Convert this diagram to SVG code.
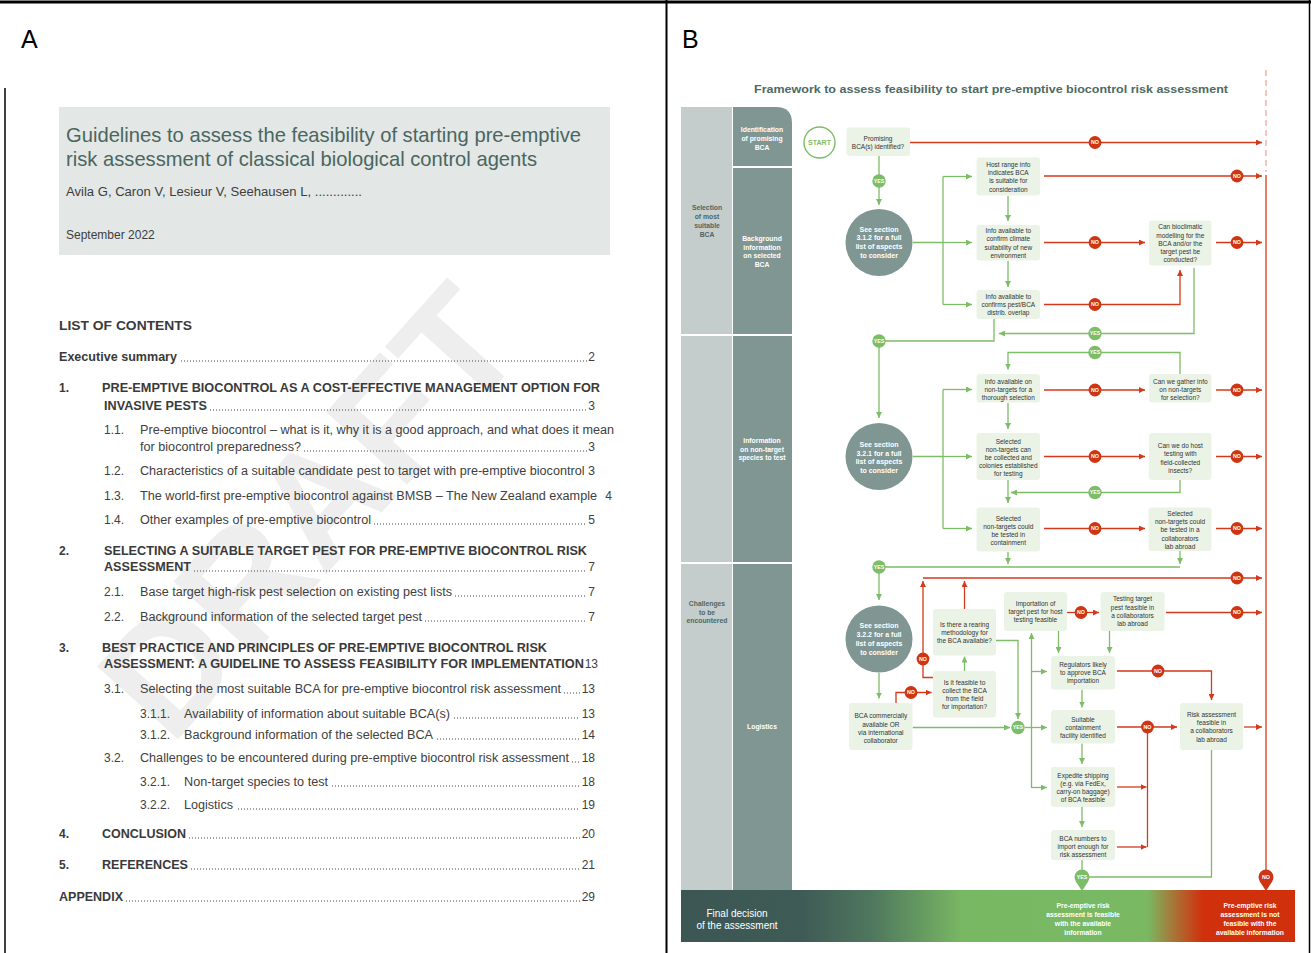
<svg xmlns="http://www.w3.org/2000/svg" width="1311" height="953" viewBox="0 0 1311 953">
<style>
.ff{font-family:"Liberation Sans",Arial,Helvetica,sans-serif}
.box{fill:#eaf3e6}
.nt{font-family:"Liberation Sans",Arial,sans-serif;font-size:6.5px;fill:#333;text-anchor:middle}
.ct{font-family:"Liberation Sans",Arial,sans-serif;font-size:7px;font-weight:bold;fill:#fff;text-anchor:middle}
.lt{font-family:"Liberation Sans",Arial,sans-serif;font-size:6.8px;font-weight:bold;fill:#4f6762;text-anchor:middle}
.dt{font-family:"Liberation Sans",Arial,sans-serif;font-size:6.8px;font-weight:bold;fill:#fff;text-anchor:middle}
.g{stroke:#7dbd68;stroke-width:1.3;fill:none}
.r{stroke:#d3391a;stroke-width:1.3;fill:none}
.ga{marker-end:url(#ag)}
.ra{marker-end:url(#ar)}
.yb{fill:#7dbd68}
.nb{fill:#cf3414}
.bt{font-family:"Liberation Sans",Arial,sans-serif;font-size:5.3px;font-weight:bold;fill:#fff;text-anchor:middle}
.toc{font-family:"Liberation Sans",Arial,sans-serif;font-size:12px;fill:#404040}
.tb{font-family:"Liberation Sans",Arial,sans-serif;font-size:12px;font-weight:bold;fill:#3a3a3a}
.pn{font-family:"Liberation Sans",Arial,sans-serif;font-size:12px;fill:#404040;text-anchor:end}
.dots{stroke:#444;stroke-width:1;stroke-dasharray:1 2}
.bar{font-family:"Liberation Sans",Arial,sans-serif;font-size:6.8px;font-weight:bold;fill:#fff;text-anchor:middle}
</style>
<defs>
<marker id="ag" viewBox="0 0 10 10" refX="10" refY="5" markerWidth="6" markerHeight="6" markerUnits="userSpaceOnUse" orient="auto"><path d="M0,0 L10,5 L0,10 z" fill="#7dbd68"/></marker>
<marker id="ar" viewBox="0 0 10 10" refX="10" refY="5" markerWidth="6" markerHeight="6" markerUnits="userSpaceOnUse" orient="auto"><path d="M0,0 L10,5 L0,10 z" fill="#d3391a"/></marker>
<linearGradient id="barg" x1="681" y1="0" x2="1295" y2="0" gradientUnits="userSpaceOnUse">
<stop offset="0" stop-color="#3c5753"/>
<stop offset="0.2" stop-color="#3f5b56"/>
<stop offset="0.31" stop-color="#4f775e"/>
<stop offset="0.46" stop-color="#79b863"/>
<stop offset="0.76" stop-color="#7ab862"/>
<stop offset="0.8" stop-color="#a6783a"/>
<stop offset="0.85" stop-color="#d1300d"/>
<stop offset="1" stop-color="#d1300d"/>
</linearGradient>
</defs>

<rect width="1311" height="953" fill="#fff"/>

<g id="frame" stroke="#000" fill="none">
<line x1="0" y1="2" x2="1311" y2="2" stroke-width="3"/>
<line x1="666.5" y1="0" x2="666.5" y2="953" stroke-width="2"/>
<line x1="5" y1="88" x2="5" y2="953" stroke-width="1.5"/>
<line x1="1309.5" y1="0" x2="1309.5" y2="953" stroke-width="1.5"/>
</g>

<!-- PANEL A -->
<g id="panelA">
<text x="21" y="48" class="ff" font-size="25" fill="#000">A</text>
<text x="350" y="548" class="ff" font-size="158" font-weight="bold" fill="#eeeeee" text-anchor="middle" transform="rotate(-48 350 548)">DRAFT</text>
<g id="titlebox">
<rect x="59" y="107" width="551" height="148" fill="#e3e7e6"/>
<text x="66" y="142" class="ff" font-size="21" fill="#4a6660" textLength="515" lengthAdjust="spacingAndGlyphs">Guidelines to assess the feasibility of starting pre-emptive</text>
<text x="66" y="166" class="ff" font-size="21" fill="#4a6660" textLength="471" lengthAdjust="spacingAndGlyphs">risk assessment of classical biological control agents</text>
<text x="66" y="196" class="ff" font-size="12" fill="#3d3d3d" textLength="296" lengthAdjust="spacingAndGlyphs">Avila G, Caron V, Lesieur V, Seehausen L, .............</text>
<text x="66" y="239" class="ff" font-size="12" fill="#3d3d3d">September 2022</text>
</g>
<g id="toc">
<text x="59" y="330" class="tb" textLength="133" lengthAdjust="spacingAndGlyphs">LIST OF CONTENTS</text>

<text x="59" y="361" class="tb" textLength="118" lengthAdjust="spacingAndGlyphs">Executive summary</text>
<line x1="181" y1="361" x2="587" y2="361" class="dots"/><text x="595" y="361" class="pn">2</text>

<text x="59" y="392" class="tb">1.</text>
<text x="102" y="392" class="tb" textLength="498" lengthAdjust="spacingAndGlyphs">PRE-EMPTIVE BIOCONTROL AS A COST-EFFECTIVE MANAGEMENT OPTION FOR</text>
<text x="104" y="410" class="tb" textLength="103" lengthAdjust="spacingAndGlyphs">INVASIVE PESTS</text>
<line x1="210" y1="410" x2="587" y2="410" class="dots"/><text x="595" y="410" class="pn">3</text>

<text x="104" y="434" class="toc">1.1.</text>
<text x="140" y="434" class="toc" textLength="474" lengthAdjust="spacingAndGlyphs">Pre-emptive biocontrol – what is it, why it is a good approach, and what does it mean</text>
<text x="140" y="451" class="toc" textLength="161" lengthAdjust="spacingAndGlyphs">for biocontrol preparedness?</text>
<line x1="304" y1="451" x2="587" y2="451" class="dots"/><text x="595" y="451" class="pn">3</text>

<text x="104" y="475" class="toc">1.2.</text>
<text x="140" y="475" class="toc" textLength="455" lengthAdjust="spacingAndGlyphs">Characteristics of a suitable candidate pest to target with pre-emptive biocontrol 3</text>

<text x="104" y="500" class="toc">1.3.</text>
<text x="140" y="500" class="toc" textLength="457" lengthAdjust="spacingAndGlyphs">The world-first pre-emptive biocontrol against BMSB – The New Zealand example</text>
<text x="612" y="500" class="pn">4</text>

<text x="104" y="524" class="toc">1.4.</text>
<text x="140" y="524" class="toc" textLength="231" lengthAdjust="spacingAndGlyphs">Other examples of pre-emptive biocontrol</text>
<line x1="374" y1="524" x2="587" y2="524" class="dots"/><text x="595" y="524" class="pn">5</text>

<text x="59" y="555" class="tb">2.</text>
<text x="104" y="555" class="tb" textLength="483" lengthAdjust="spacingAndGlyphs">SELECTING A SUITABLE TARGET PEST FOR PRE-EMPTIVE BIOCONTROL RISK</text>
<text x="104" y="571" class="tb" textLength="87" lengthAdjust="spacingAndGlyphs">ASSESSMENT</text>
<line x1="194" y1="571" x2="587" y2="571" class="dots"/><text x="595" y="571" class="pn">7</text>

<text x="104" y="596" class="toc">2.1.</text>
<text x="140" y="596" class="toc" textLength="312" lengthAdjust="spacingAndGlyphs">Base target high-risk pest selection on existing pest lists</text>
<line x1="455" y1="596" x2="587" y2="596" class="dots"/><text x="595" y="596" class="pn">7</text>

<text x="104" y="621" class="toc">2.2.</text>
<text x="140" y="621" class="toc" textLength="282" lengthAdjust="spacingAndGlyphs">Background information of the selected target pest</text>
<line x1="425" y1="621" x2="587" y2="621" class="dots"/><text x="595" y="621" class="pn">7</text>

<text x="59" y="652" class="tb">3.</text>
<text x="102" y="652" class="tb" textLength="445" lengthAdjust="spacingAndGlyphs">BEST PRACTICE AND PRINCIPLES OF PRE-EMPTIVE BIOCONTROL RISK</text>
<text x="104" y="668" class="tb" textLength="480" lengthAdjust="spacingAndGlyphs">ASSESSMENT: A GUIDELINE TO ASSESS FEASIBILITY FOR IMPLEMENTATION</text>
<text x="598" y="668" class="pn">13</text>

<text x="104" y="693" class="toc">3.1.</text>
<text x="140" y="693" class="toc" textLength="421" lengthAdjust="spacingAndGlyphs">Selecting the most suitable BCA for pre-emptive biocontrol risk assessment</text>
<line x1="564" y1="693" x2="580" y2="693" class="dots"/><text x="595" y="693" class="pn">13</text>

<text x="140" y="718" class="toc">3.1.1.</text>
<text x="184" y="718" class="toc" textLength="266" lengthAdjust="spacingAndGlyphs">Availability of information about suitable BCA(s)</text>
<line x1="454" y1="718" x2="580" y2="718" class="dots"/><text x="595" y="718" class="pn">13</text>

<text x="140" y="739" class="toc">3.1.2.</text>
<text x="184" y="739" class="toc" textLength="249" lengthAdjust="spacingAndGlyphs">Background information of the selected BCA</text>
<line x1="437" y1="739" x2="580" y2="739" class="dots"/><text x="595" y="739" class="pn">14</text>

<text x="104" y="762" class="toc">3.2.</text>
<text x="140" y="762" class="toc" textLength="429" lengthAdjust="spacingAndGlyphs">Challenges to be encountered during pre-emptive biocontrol risk assessment</text>
<line x1="572" y1="762" x2="580" y2="762" class="dots"/><text x="595" y="762" class="pn">18</text>

<text x="140" y="786" class="toc">3.2.1.</text>
<text x="184" y="786" class="toc" textLength="144" lengthAdjust="spacingAndGlyphs">Non-target species to test</text>
<line x1="332" y1="786" x2="580" y2="786" class="dots"/><text x="595" y="786" class="pn">18</text>

<text x="140" y="809" class="toc">3.2.2.</text>
<text x="184" y="809" class="toc" textLength="49" lengthAdjust="spacingAndGlyphs">Logistics</text>
<line x1="238" y1="809" x2="580" y2="809" class="dots"/><text x="595" y="809" class="pn">19</text>

<text x="59" y="838" class="tb">4.</text>
<text x="102" y="838" class="tb" textLength="84" lengthAdjust="spacingAndGlyphs">CONCLUSION</text>
<line x1="189" y1="838" x2="580" y2="838" class="dots"/><text x="595" y="838" class="pn">20</text>

<text x="59" y="869" class="tb">5.</text>
<text x="102" y="869" class="tb" textLength="86" lengthAdjust="spacingAndGlyphs">REFERENCES</text>
<line x1="191" y1="869" x2="580" y2="869" class="dots"/><text x="595" y="869" class="pn">21</text>

<text x="59" y="901" class="tb" textLength="64" lengthAdjust="spacingAndGlyphs">APPENDIX</text>
<line x1="126" y1="901" x2="580" y2="901" class="dots"/><text x="595" y="901" class="pn">29</text>
</g>
</g>

<!-- PANEL B -->
<g id="panelB">
<text x="682" y="48" class="ff" font-size="25" fill="#000">B</text>
<text x="754" y="93" class="ff" font-size="11" font-weight="bold" fill="#4d6a64" textLength="474" lengthAdjust="spacingAndGlyphs">Framework to assess feasibility to start pre-emptive biocontrol risk assessment</text>

<g id="lanes">
<rect x="681" y="107" width="52" height="783" fill="#c4cdcb"/>
<path d="M732 107 H776 Q792 107 792 123 V890 H732 Z" fill="#7f9692"/>
<line x1="732" y1="167" x2="792" y2="167" stroke="#fff" stroke-width="2"/>
<line x1="681" y1="335" x2="792" y2="335" stroke="#fff" stroke-width="2"/>
<line x1="681" y1="563" x2="792" y2="563" stroke="#fff" stroke-width="2"/>
<line x1="732.5" y1="107" x2="732.5" y2="890" stroke="#fff" stroke-width="1"/>
<text class="lt" x="707" y="210">Selection</text><text class="lt" x="707" y="219">of most</text><text class="lt" x="707" y="227.5">suitable</text><text class="lt" x="707" y="236.5">BCA</text>
<text class="lt" x="707" y="606">Challenges</text><text class="lt" x="707" y="614.5">to be</text><text class="lt" x="707" y="623">encountered</text>
<text class="dt" x="762" y="132">Identification</text><text class="dt" x="762" y="141">of promising</text><text class="dt" x="762" y="149.5">BCA</text>
<text class="dt" x="762" y="241">Background</text><text class="dt" x="762" y="249.5">information</text><text class="dt" x="762" y="258">on selected</text><text class="dt" x="762" y="267">BCA</text>
<text class="dt" x="762" y="443">Information</text><text class="dt" x="762" y="451.5">on non-target</text><text class="dt" x="762" y="460">species to test</text>
<text class="dt" x="762" y="729">Logistics</text>
</g>

<g id="finalbar">
<rect x="681" y="890" width="614" height="52" fill="url(#barg)"/>
<text x="737" y="917" class="ff" font-size="10" fill="#fff" text-anchor="middle">Final decision</text>
<text x="737" y="929" class="ff" font-size="10" fill="#fff" text-anchor="middle">of the assessment</text>
<text class="bar" x="1083" y="908">Pre-emptive risk</text><text class="bar" x="1083" y="917">assessment is feasible</text><text class="bar" x="1083" y="926">with the available</text><text class="bar" x="1083" y="934.5">information</text>
<text class="bar" x="1250" y="908">Pre-emptive risk</text><text class="bar" x="1250" y="917">assessment is not</text><text class="bar" x="1250" y="926">feasible with the</text><text class="bar" x="1250" y="934.5">available information</text>
</g>

<g id="connectors">
<line x1="1266" y1="70" x2="1266" y2="172" stroke="#f2a898" stroke-width="1.3" stroke-dasharray="6 4"/>
<path class="r" d="M1266 175 V872"/>
<!-- green -->
<path class="g ga" d="M879 156 V205"/>
<path class="g" d="M913 242.5 H943 M943 176.5 V304.5"/>
<path class="g ga" d="M943 176.5 H972"/>
<path class="g ga" d="M943 242.5 H972"/>
<path class="g ga" d="M943 304.5 H972"/>
<path class="g ga" d="M1008 196 V221"/>
<path class="g ga" d="M1008 261 V287"/>
<path class="g ga" d="M1194 268 V333.5 H999"/>
<path class="g ga" d="M994 319 V341 H879 V418"/>
<path class="g" d="M913 456.5 H943 M943 389.5 V528.5"/>
<path class="g ga" d="M943 389.5 H972"/>
<path class="g ga" d="M943 456.5 H972"/>
<path class="g ga" d="M943 528.5 H972"/>
<path class="g ga" d="M1180 374 V352.5 H1008 V369.5"/>
<path class="g ga" d="M1008 403 V429"/>
<path class="g ga" d="M1180 480 V492.5 H1011"/>
<path class="g ga" d="M1008 480 V503"/>
<path class="g ga" d="M1008 552 V564"/>
<path class="g ga" d="M1180 551 V564"/>
<path class="g ga" d="M1180 567 H879 V600"/>
<path class="g ga" d="M879 673 V698.5"/>
<path class="g ga" d="M912.5 727.5 H1010"/>
<path class="g ga" d="M964.5 671 V656.5"/>
<path class="g ga" d="M996 640.5 H1018 V719"/>
<path class="g ga" d="M1025 727.5 H1047"/>
<path class="g ga" d="M1031.5 788 V633"/>
<path class="g ga" d="M1031.5 671.5 H1047"/>
<path class="g ga" d="M1031.5 787.5 H1047"/>
<path class="g ga" d="M1058.5 631 V653"/>
<path class="g ga" d="M1109.5 631 V653"/>
<path class="g ga" d="M1082 689.5 V707.5"/>
<path class="g ga" d="M1082 743.5 V764"/>
<path class="g ga" d="M1082 807 V827"/>
<path class="g" d="M1082 860 V872"/>
<path class="g" d="M1211.5 750 V877 H1088"/>
<!-- red -->
<path class="r ra" d="M910 142.5 H1262"/>
<path class="r ra" d="M1044 176 H1262"/>
<path class="r ra" d="M1044 242.5 H1145"/>
<path class="r ra" d="M1216 242.5 H1262"/>
<path class="r ra" d="M1044 304.5 H1180 V270"/>
<path class="r ra" d="M1044 390 H1145"/>
<path class="r ra" d="M1216 390 H1262"/>
<path class="r ra" d="M1044 456.5 H1145"/>
<path class="r ra" d="M1216 456.5 H1262"/>
<path class="r ra" d="M1044 528.5 H1145"/>
<path class="r ra" d="M1216 528.5 H1262"/>
<path class="r ra" d="M923 578 H1262"/>
<path class="r ra" d="M933 677.5 H923 V581"/>
<path class="r ra" d="M964.5 609 V581"/>
<path class="r ra" d="M896 703 V692.5 H931.5"/>
<path class="r ra" d="M1067 612.5 H1099"/>
<path class="r ra" d="M1166 612.5 H1262"/>
<path class="r ra" d="M1117 671 H1211.5 V700"/>
<path class="r ra" d="M1117 727 H1177"/>
<path class="r" d="M1147.5 727 V847"/>
<path class="r ra" d="M1117 787 H1146.5"/>
<path class="r ra" d="M1117 847 H1146.5"/>
<path class="r ra" d="M1244 727 H1262"/>
<!-- badges YES -->
<circle class="yb" cx="879" cy="181" r="6.7"/><text class="bt" x="879" y="182.9">YES</text>
<circle class="yb" cx="1095" cy="333.5" r="6.7"/><text class="bt" x="1095" y="335.4">YES</text>
<circle class="yb" cx="879" cy="341" r="6.7"/><text class="bt" x="879" y="342.9">YES</text>
<circle class="yb" cx="1095" cy="352.5" r="6.7"/><text class="bt" x="1095" y="354.4">YES</text>
<circle class="yb" cx="1095" cy="492.5" r="6.7"/><text class="bt" x="1095" y="494.4">YES</text>
<circle class="yb" cx="879" cy="567" r="6.7"/><text class="bt" x="879" y="568.9">YES</text>
<circle class="yb" cx="1018" cy="727.5" r="6.7"/><text class="bt" x="1018" y="729.4">YES</text>
<!-- badges NO -->
<circle class="nb" cx="1095" cy="142.5" r="6.4"/><text class="bt" x="1095" y="144.4">NO</text>
<circle class="nb" cx="1237" cy="176" r="6.4"/><text class="bt" x="1237" y="177.9">NO</text>
<circle class="nb" cx="1095" cy="242.5" r="6.4"/><text class="bt" x="1095" y="244.4">NO</text>
<circle class="nb" cx="1237" cy="242.5" r="6.4"/><text class="bt" x="1237" y="244.4">NO</text>
<circle class="nb" cx="1095" cy="304.5" r="6.4"/><text class="bt" x="1095" y="306.4">NO</text>
<circle class="nb" cx="1095" cy="390" r="6.4"/><text class="bt" x="1095" y="391.9">NO</text>
<circle class="nb" cx="1237" cy="390" r="6.4"/><text class="bt" x="1237" y="391.9">NO</text>
<circle class="nb" cx="1095" cy="456.5" r="6.4"/><text class="bt" x="1095" y="458.4">NO</text>
<circle class="nb" cx="1237" cy="456.5" r="6.4"/><text class="bt" x="1237" y="458.4">NO</text>
<circle class="nb" cx="1095" cy="528.5" r="6.4"/><text class="bt" x="1095" y="530.4">NO</text>
<circle class="nb" cx="1237" cy="528.5" r="6.4"/><text class="bt" x="1237" y="530.4">NO</text>
<circle class="nb" cx="1237" cy="578" r="6.4"/><text class="bt" x="1237" y="579.9">NO</text>
<circle class="nb" cx="923" cy="659" r="6.4"/><text class="bt" x="923" y="660.9">NO</text>
<circle class="nb" cx="911" cy="692.5" r="6.4"/><text class="bt" x="911" y="694.4">NO</text>
<circle class="nb" cx="1081" cy="612.5" r="6.4"/><text class="bt" x="1081" y="614.4">NO</text>
<circle class="nb" cx="1237" cy="612.5" r="6.4"/><text class="bt" x="1237" y="614.4">NO</text>
<circle class="nb" cx="1158" cy="671" r="6.4"/><text class="bt" x="1158" y="672.9">NO</text>
<circle class="nb" cx="1147.5" cy="727" r="6.4"/><text class="bt" x="1147.5" y="728.9">NO</text>
<!-- pins -->
<path d="M1075.5 881 L1082 891 L1088.5 881 Z" class="yb"/><circle class="yb" cx="1082" cy="877" r="7.5"/><text class="bt" x="1082" y="879" font-size="5.5">YES</text>
<path d="M1259.5 881 L1266 891 L1272.5 881 Z" class="nb"/><circle class="nb" cx="1266" cy="877" r="7.5"/><text class="bt" x="1266" y="879" font-size="5.5">NO</text>
</g>

<g id="start"><circle cx="819.5" cy="142.5" r="15.5" fill="#fff" stroke="#7dbd68" stroke-width="1.4"/><text x="819.5" y="145" class="ct" style="fill:#7dbd68">START</text></g>

<g id="circle1"><circle cx="879" cy="242.5" r="33.5" fill="#7f9692"/><text class="ct" x="879" y="231.5">See section</text><text class="ct" x="879" y="240">3.1.2 for a full</text><text class="ct" x="879" y="248.5">list of aspects</text><text class="ct" x="879" y="257.5">to consider</text></g>
<g id="circle2"><circle cx="879" cy="456.5" r="33.5" fill="#7f9692"/><text class="ct" x="879" y="446.5">See section</text><text class="ct" x="879" y="455.5">3.2.1 for a full</text><text class="ct" x="879" y="464">list of aspects</text><text class="ct" x="879" y="472.5">to consider</text></g>
<g id="circle3"><circle cx="879" cy="639" r="33.5" fill="#7f9692"/><text class="ct" x="879" y="628">See section</text><text class="ct" x="879" y="636.5">3.2.2 for a full</text><text class="ct" x="879" y="645.5">list of aspects</text><text class="ct" x="879" y="654.5">to consider</text></g>

<g id="n-promising"><rect class="box" x="846.5" y="127.5" width="63.5" height="28.5" rx="3"/><text class="nt" x="878" y="140.5">Promising</text><text class="nt" x="878" y="148.5">BCA(s) identified?</text></g>
<g id="n-host"><rect class="box" x="976.5" y="157.5" width="63.5" height="38" rx="3"/><text class="nt" x="1008.3" y="166.5">Host range info</text><text class="nt" x="1008.3" y="175">indicates BCA</text><text class="nt" x="1008.3" y="183">is suitable for</text><text class="nt" x="1008.3" y="191.5">consideration</text></g>
<g id="n-climate"><rect class="box" x="976.5" y="225" width="63.5" height="35.5" rx="3"/><text class="nt" x="1008.3" y="233">Info available to</text><text class="nt" x="1008.3" y="241">confirm climate</text><text class="nt" x="1008.3" y="249.5">suitability of new</text><text class="nt" x="1008.3" y="257.5">environment</text></g>
<g id="n-bioclim"><rect class="box" x="1149" y="220.5" width="62.5" height="45" rx="3"/><text class="nt" x="1180.3" y="229">Can bioclimatic</text><text class="nt" x="1180.3" y="237.5">modelling for the</text><text class="nt" x="1180.3" y="245.5">BCA and/or the</text><text class="nt" x="1180.3" y="253.5">target pest be</text><text class="nt" x="1180.3" y="262">conducted?</text></g>
<g id="n-overlap"><rect class="box" x="976.5" y="290" width="63.5" height="29" rx="3"/><text class="nt" x="1008.3" y="299">Info available to</text><text class="nt" x="1008.3" y="307">confirms pest/BCA</text><text class="nt" x="1008.3" y="315">distrib. overlap</text></g>
<g id="n-ntinfo"><rect class="box" x="976.5" y="374" width="63.5" height="28.5" rx="3"/><text class="nt" x="1008.3" y="383.5">Info available on</text><text class="nt" x="1008.3" y="391.5">non-targets for a</text><text class="nt" x="1008.3" y="399.5">thorough selection</text></g>
<g id="n-gather"><rect class="box" x="1149" y="374" width="62.5" height="28.5" rx="3"/><text class="nt" x="1180.3" y="383.5">Can we gather info</text><text class="nt" x="1180.3" y="391.5">on non-targets</text><text class="nt" x="1180.3" y="399.5">for selection?</text></g>
<g id="n-collected"><rect class="box" x="976.5" y="433" width="63.5" height="47" rx="3"/><text class="nt" x="1008.3" y="443.5">Selected</text><text class="nt" x="1008.3" y="451.5">non-targets can</text><text class="nt" x="1008.3" y="459.5">be collected and</text><text class="nt" x="1008.3" y="468">colonies established</text><text class="nt" x="1008.3" y="476">for testing</text></g>
<g id="n-hosttest"><rect class="box" x="1149" y="433" width="62.5" height="47" rx="3"/><text class="nt" x="1180.3" y="448">Can we do host</text><text class="nt" x="1180.3" y="456">testing with</text><text class="nt" x="1180.3" y="464.5">field-collected</text><text class="nt" x="1180.3" y="472.5">insects?</text></g>
<g id="n-contain"><rect class="box" x="976.5" y="507.5" width="63.5" height="44" rx="3"/><text class="nt" x="1008.3" y="520.5">Selected</text><text class="nt" x="1008.3" y="529">non-targets could</text><text class="nt" x="1008.3" y="537">be tested in</text><text class="nt" x="1008.3" y="545">containment</text></g>
<g id="n-lababroad"><rect class="box" x="1148.5" y="507.5" width="63" height="43.5" rx="3"/><text class="nt" x="1180" y="515.5">Selected</text><text class="nt" x="1180" y="524">non-targets could</text><text class="nt" x="1180" y="532">be tested in a</text><text class="nt" x="1180" y="540.5">collaborators</text><text class="nt" x="1180" y="548.5">lab abroad</text></g>
<g id="n-commercial"><rect class="box" x="849" y="703" width="63.5" height="47" rx="3"/><text class="nt" x="880.8" y="718">BCA commercially</text><text class="nt" x="880.8" y="726.5">available OR</text><text class="nt" x="880.8" y="734.5">via international</text><text class="nt" x="880.8" y="742.5">collaborator</text></g>
<g id="n-field"><rect class="box" x="933" y="671" width="63" height="46.5" rx="3"/><text class="nt" x="964.5" y="684.5">Is it feasible to</text><text class="nt" x="964.5" y="692.5">collect the BCA</text><text class="nt" x="964.5" y="700.5">from the field</text><text class="nt" x="964.5" y="709">for importation?</text></g>
<g id="n-rearing"><rect class="box" x="933" y="609" width="63" height="46.5" rx="3"/><text class="nt" x="964.5" y="626.5">Is there a rearing</text><text class="nt" x="964.5" y="634.5">methodology for</text><text class="nt" x="964.5" y="642.5">the BCA available?</text></g>
<g id="n-importpest"><rect class="box" x="1004" y="592" width="63" height="39" rx="3"/><text class="nt" x="1035.5" y="606">Importation of</text><text class="nt" x="1035.5" y="614">target pest for host</text><text class="nt" x="1035.5" y="622">testing feasible</text></g>
<g id="n-testabroad"><rect class="box" x="1100.5" y="592" width="64" height="39" rx="3"/><text class="nt" x="1132.5" y="601">Testing target</text><text class="nt" x="1132.5" y="609.5">pest feasible in</text><text class="nt" x="1132.5" y="617.5">a collaborators</text><text class="nt" x="1132.5" y="625.5">lab abroad</text></g>
<g id="n-regulators"><rect class="box" x="1051" y="656" width="64" height="33.5" rx="3"/><text class="nt" x="1083" y="666.5">Regulators likely</text><text class="nt" x="1083" y="674.5">to approve BCA</text><text class="nt" x="1083" y="682.5">importation</text></g>
<g id="n-facility"><rect class="box" x="1051" y="710" width="64" height="33.5" rx="3"/><text class="nt" x="1083" y="721.5">Suitable</text><text class="nt" x="1083" y="729.5">containment</text><text class="nt" x="1083" y="738">facility identified</text></g>
<g id="n-shipping"><rect class="box" x="1051" y="767" width="64" height="40" rx="3"/><text class="nt" x="1083" y="777.5">Expedite shipping</text><text class="nt" x="1083" y="785.5">(e.g. via FedEx,</text><text class="nt" x="1083" y="793.5">carry-on baggage)</text><text class="nt" x="1083" y="801.5">of BCA feasible</text></g>
<g id="n-numbers"><rect class="box" x="1051" y="830" width="64" height="30" rx="3"/><text class="nt" x="1083" y="840.5">BCA numbers to</text><text class="nt" x="1083" y="848.5">import enough for</text><text class="nt" x="1083" y="856.5">risk assessment</text></g>
<g id="n-riskabroad"><rect class="box" x="1180" y="703" width="63" height="47" rx="3"/><text class="nt" x="1211.5" y="716.5">Risk assessment</text><text class="nt" x="1211.5" y="725">feasible in</text><text class="nt" x="1211.5" y="733">a collaborators</text><text class="nt" x="1211.5" y="741.5">lab abroad</text></g>
</g>
</svg>
